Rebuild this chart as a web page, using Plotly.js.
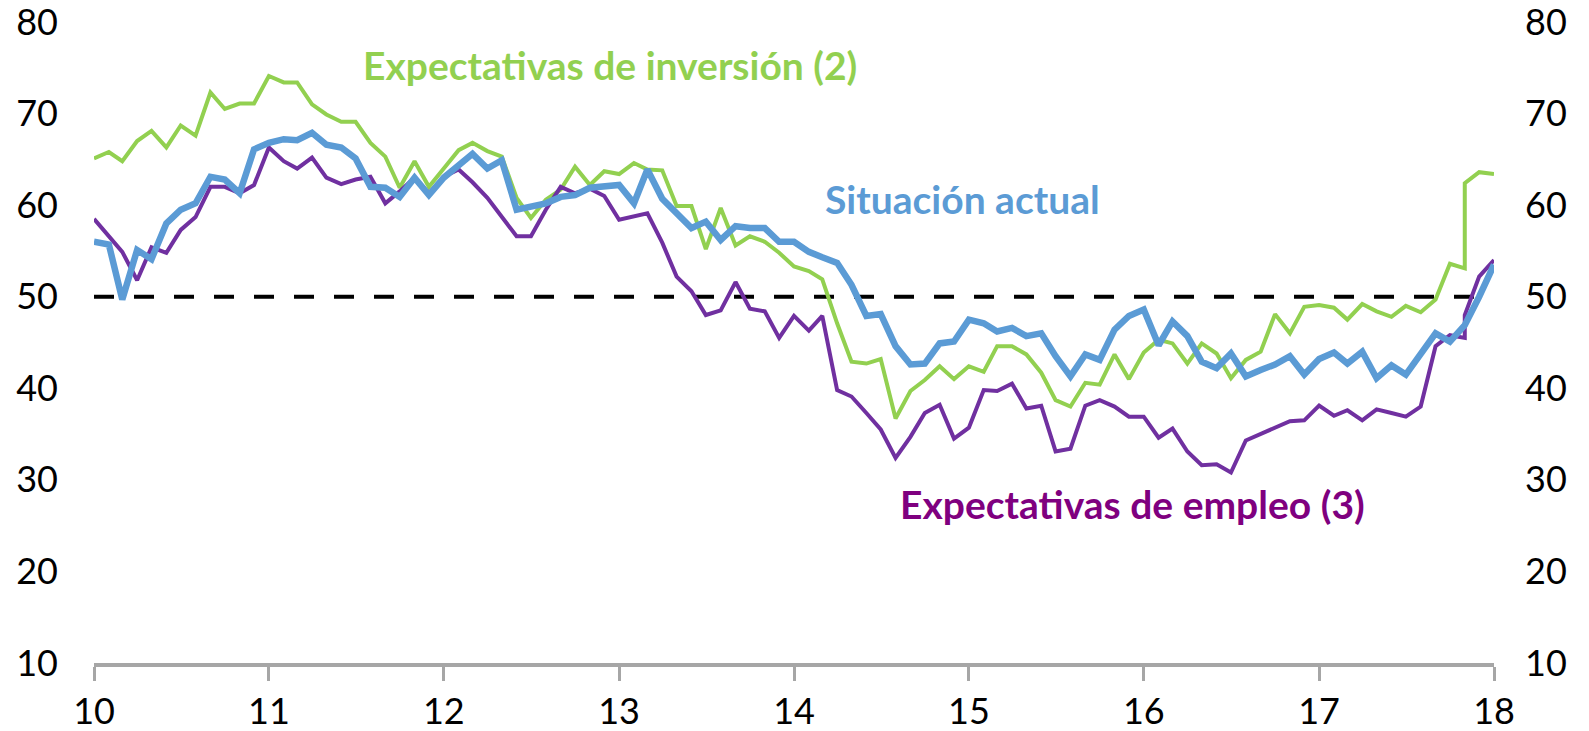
<!DOCTYPE html>
<html>
<head>
<meta charset="utf-8">
<script src="https://cdn.plot.ly/plotly-3.0.1.min.js"></script>
<style>html,body{margin:0;padding:0;background:#fff;}#chart{width:1589px;height:731px;}</style>
</head>
<body>
<div id="chart"></div>
<script>
// Monthly dates, Jan 2010 - Jan 2018 (Nov 2017 appears twice: series break)
const months = [
 "2010-01","2010-02","2010-03","2010-04","2010-05","2010-06","2010-07","2010-08","2010-09","2010-10","2010-11","2010-12",
 "2011-01","2011-02","2011-03","2011-04","2011-05","2011-06","2011-07","2011-08","2011-09","2011-10","2011-11","2011-12",
 "2012-01","2012-02","2012-03","2012-04","2012-05","2012-06","2012-07","2012-08","2012-09","2012-10","2012-11","2012-12",
 "2013-01","2013-02","2013-03","2013-04","2013-05","2013-06","2013-07","2013-08","2013-09","2013-10","2013-11","2013-12",
 "2014-01","2014-02","2014-03","2014-04","2014-05","2014-06","2014-07","2014-08","2014-09","2014-10","2014-11","2014-12",
 "2015-01","2015-02","2015-03","2015-04","2015-05","2015-06","2015-07","2015-08","2015-09","2015-10","2015-11","2015-12",
 "2016-01","2016-02","2016-03","2016-04","2016-05","2016-06","2016-07","2016-08","2016-09","2016-10","2016-11","2016-12",
 "2017-01","2017-02","2017-03","2017-04","2017-05","2017-06","2017-07","2017-08","2017-09","2017-10","2017-11","2017-11","2017-12",
 "2018-01"
];

// Expectativas de inversión (2)
const inversion = [
 65.1,65.8,64.8,67.0,68.1,66.3,68.7,67.6,72.3,70.5,71.1,71.1,
 74.1,73.4,73.4,71.0,69.9,69.1,69.1,66.8,65.3,61.9,64.8,62.0,
 64.0,66.0,66.8,65.9,65.3,60.8,58.6,60.6,61.7,64.2,62.2,63.7,
 63.4,64.6,63.9,63.8,59.9,59.9,55.2,59.7,55.6,56.6,56.0,54.8,
 53.3,52.8,51.9,47.1,42.9,42.7,43.2,36.7,39.7,40.9,42.4,41.0,
 42.4,41.8,44.6,44.6,43.7,41.7,38.7,38.0,40.6,40.4,43.7,41.0,
 43.9,45.3,44.9,42.7,44.9,43.8,41.1,43.1,44.0,48.1,46.0,48.9,
 49.1,48.8,47.5,49.2,48.4,47.8,49.0,48.3,49.7,53.6,53.1,62.4,63.6,
 63.4
];

// Situación actual
const situacion = [
 56.0,55.7,49.7,55.1,54.1,58.0,59.5,60.2,63.1,62.8,61.3,66.1,
 66.8,67.2,67.1,67.9,66.6,66.3,65.1,62.0,61.9,60.9,63.0,61.1,
 63.0,64.4,65.6,64.0,64.9,59.5,59.9,60.2,60.9,61.1,61.9,62.0,
 62.2,60.2,63.9,60.7,59.1,57.5,58.2,56.2,57.7,57.5,57.5,56.0,
 56.0,54.9,54.3,53.7,51.3,47.9,48.1,44.6,42.6,42.7,44.9,45.1,
 47.5,47.1,46.2,46.6,45.7,46.0,43.5,41.3,43.7,43.1,46.4,47.9,
 48.6,44.7,47.3,45.7,42.9,42.2,43.8,41.3,42.0,42.6,43.5,41.5,
 43.2,43.9,42.7,44.0,41.1,42.5,41.5,43.8,46.0,45.1,46.9,46.9,50.0,
 53.5
];

// Expectativas de empleo (3)
const empleo = [
 58.5,56.6,54.9,51.8,55.4,54.8,57.3,58.7,62.0,62.0,61.3,62.2,
 66.3,64.8,64.0,65.2,63.0,62.3,62.8,63.1,60.2,61.5,63.0,61.3,
 63.1,63.9,62.5,60.8,58.8,56.6,56.6,59.5,62.0,61.3,61.8,61.0,
 58.4,58.8,59.1,55.9,52.2,50.6,48.0,48.5,51.6,48.7,48.4,45.5,
 47.9,46.3,47.9,39.8,39.1,37.3,35.5,32.4,34.7,37.3,38.2,34.5,
 35.7,39.8,39.7,40.5,37.8,38.1,33.1,33.4,38.1,38.7,38.0,36.9,
 36.9,34.6,35.6,33.1,31.6,31.7,30.8,34.3,35.0,35.6,36.4,36.5,
 38.1,37.0,37.6,36.5,37.7,37.3,36.9,38.0,44.6,45.8,45.5,48.0,52.2,
 54.0
];

const threshold = 50;
const yTicks = [10, 20, 30, 40, 50, 60, 70, 80];
const seriesNames = ["Expectativas de inversión (2)", "Situación actual", "Expectativas de empleo (3)"];

const GREEN = "#92D050", BLUE = "#5B9BD5", PURPLE = "#7030A0", PURPLE_TXT = "#7F007F";
const tickFont = {family: "Lato, 'Open Sans', sans-serif", size: 36, color: "#000"};
const annFont = (c) => ({family: "Lato, 'Open Sans', sans-serif", size: 39, color: c, weight: "bold"});

const traces = [
  {x: months, y: inversion, name: seriesNames[0], type: "scatter", mode: "lines",
   line: {color: GREEN, width: 4}, hoverinfo: "skip"},
  {x: months, y: empleo, name: seriesNames[2], type: "scatter", mode: "lines",
   line: {color: PURPLE, width: 4}, hoverinfo: "skip"},
  {x: months, y: situacion, name: seriesNames[1], type: "scatter", mode: "lines",
   line: {color: BLUE, width: 6.5}, hoverinfo: "skip"}
];

const layout = {
  width: 1589, height: 731,
  margin: {l: 94, r: 95, t: 22, b: 68, pad: 0},
  paper_bgcolor: "#fff", plot_bgcolor: "#fff",
  showlegend: false,
  font: {family: "Lato, 'Open Sans', sans-serif"},
  xaxis: {
    type: "date", range: ["2010-01-01", "2018-01-01"],
    tick0: "2010-01-01", dtick: "M12", tickformat: "%y",
    showgrid: false, zeroline: false,
    showline: true, linecolor: "#A6A6A6", linewidth: 4,
    ticks: "outside", ticklen: 14, tickwidth: 3, tickcolor: "#A6A6A6",
    tickfont: tickFont, ticklabelstandoff: 0, ticklabeloverflow: "allow"
  },
  yaxis: {
    range: [10, 80], tickvals: yTicks, showgrid: false, zeroline: false,
    showline: false, ticks: "", tickfont: tickFont, ticklabelstandoff: 35,
    ticklabeloverflow: "allow"
  },
  yaxis2: {
    range: [10, 80], tickvals: yTicks, overlaying: "y", side: "right", matches: "y",
    showgrid: false, zeroline: false, showline: false, ticks: "",
    tickfont: tickFont, ticklabelstandoff: 30, ticklabeloverflow: "allow"
  },
  shapes: [{
    type: "line", xref: "paper", x0: 0, x1: 1, yref: "y", y0: threshold, y1: threshold,
    line: {color: "#000", width: 4, dash: "20px,20px"}, layer: "below"
  }],
  annotations: [
    {text: seriesNames[0], xref: "paper", yref: "paper", x: 0.3686, y: 0.933,
     xanchor: "center", yanchor: "middle", showarrow: false, font: annFont(GREEN)},
    {text: seriesNames[1], xref: "paper", yref: "paper", x: 0.620, y: 0.724,
     xanchor: "center", yanchor: "middle", showarrow: false, font: annFont(BLUE)},
    {text: seriesNames[2], xref: "paper", yref: "paper", x: 0.742, y: 0.248,
     xanchor: "center", yanchor: "middle", showarrow: false, font: annFont(PURPLE_TXT)}
  ]
};

// empty trace on the right axis so its labels are drawn
traces.push({x: [months[0]], y: [null], yaxis: "y2", type: "scatter", mode: "lines", showlegend: false, hoverinfo: "skip"});

Plotly.newPlot("chart", traces, layout, {displayModeBar: false, staticPlot: true});
</script>
</body>
</html>
